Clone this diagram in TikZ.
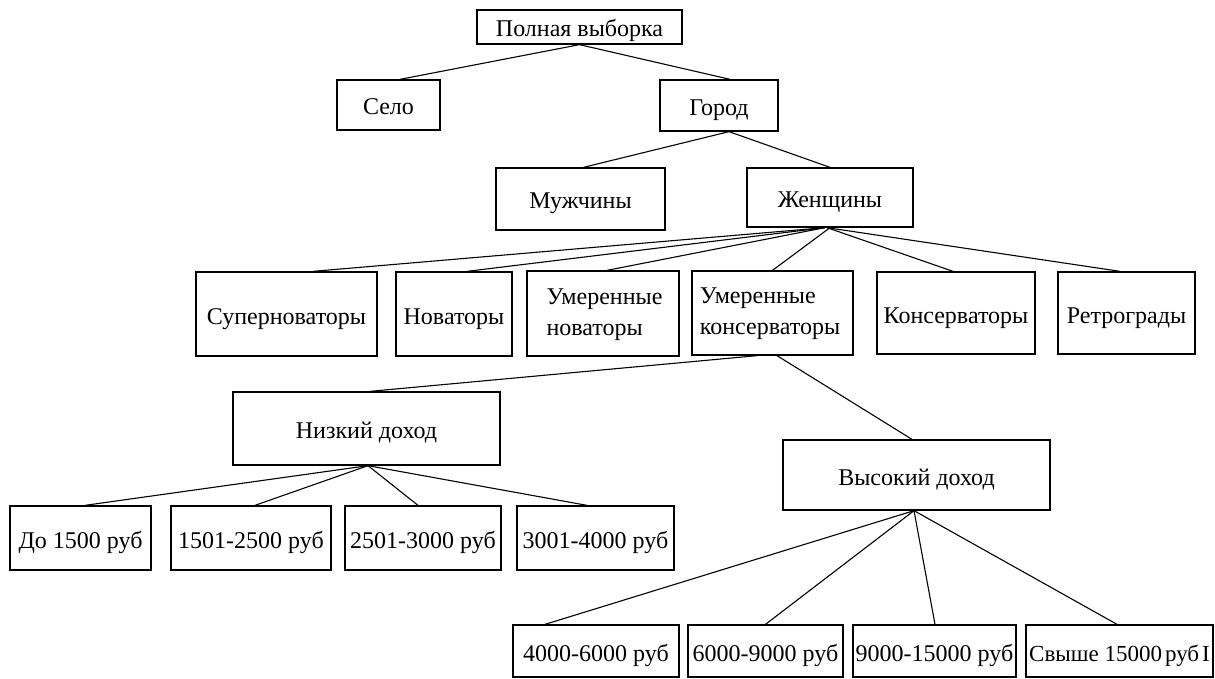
\documentclass[tikz,border=0pt]{standalone}
\usepackage{fontspec}
\setmainfont{Liberation Serif}
\begin{document}
\begin{tikzpicture}[x=1pt,y=-1pt,
  box/.style={draw, line width=1.3pt, inner sep=0pt, font=\fontsize{24}{31}\selectfont},
  tb/.style={box, text height=21pt, text depth=1pt},
  conn/.style={line width=1.1pt}]
\useasboundingbox (0,0) rectangle (1215,679);
\fill[white] (0,0) rectangle (1215,679);
% level 0-2
\node[tb, minimum width=205, minimum height=34] (full) at (579.5,27) {Полная выборка};
\node[tb, minimum width=103, minimum height=50] (selo) at (388.5,105) {Село};
\node[tb, minimum width=118, minimum height=51] (gorod) at (719,105.5) {Город};
\node[tb, minimum width=169, minimum height=62] (muzh) at (580.5,199) {Мужчины};
\node[tb, minimum width=166, minimum height=59] (zhen) at (830,197.5) {Женщины};
% level 3
\node[tb, minimum width=181, minimum height=84] (sup) at (286.5,314) {Суперноваторы};
\node[tb, minimum width=116, minimum height=84] (nov) at (454,314) {Новаторы};
\node[box, minimum width=152, minimum height=85] (umnov) at (603,313.5)
  {\hspace*{3pt}\raisebox{-3pt}{\begin{tabular}{@{}l@{}}Умеренные\\новаторы\end{tabular}}};
\node[box, minimum width=161, minimum height=84] (umkons) at (772.5,313)
  {\hspace*{-5pt}\raisebox{-3pt}{\begin{tabular}{@{}l@{}}Умеренные\\консерваторы\end{tabular}}};
\node[tb, minimum width=158, minimum height=82] (kons) at (956,313) {Консерваторы};
\node[tb, minimum width=137, minimum height=82] (retro) at (1126.5,313) {Ретрограды};
% level 4
\node[tb, minimum width=267, minimum height=73] (nizk) at (366.5,428.5) {Низкий доход};
\node[tb, minimum width=267, minimum height=70] (vys) at (916.5,475) {Высокий доход};
% level 5
\node[tb, minimum width=141, minimum height=64] (l1) at (80.5,538) {До 1500 руб};
\node[tb, minimum width=160, minimum height=64] (l2) at (251,538) {1501-2500 руб};
\node[tb, minimum width=156, minimum height=64] (l3) at (423,538) {2501-3000 руб};
\node[tb, minimum width=157, minimum height=64] (l4) at (595.5,538) {3001-4000 руб};
\node[tb, minimum width=166, minimum height=52] (h1) at (596,651) {4000-6000 руб};
\node[tb, minimum width=155, minimum height=52] (h2) at (765.5,651) {6000-9000 руб};
\node[tb, minimum width=163, minimum height=52] (h3) at (934.5,651) {9000-15000 руб};
\node[tb, minimum width=187, minimum height=52, font=\fontsize{23}{29}\selectfont] (h4) at (1119.5,651) {Свыше 15000\hspace{3pt}руб\hspace{3pt}I};
% connectors
\draw[conn] (full.south) -- ([xshift=11.5]selo.north);
\draw[conn] (full.south) -- ([xshift=11]gorod.north);
\draw[conn] ([xshift=10]gorod.south) -- ([xshift=3]muzh.north);
\draw[conn] ([xshift=10]gorod.south) -- (zhen.north);
\draw[conn] ([xshift=-5]zhen.south) -- ([xshift=26.5]sup.north);
\draw[conn] ([xshift=-5]zhen.south) -- ([xshift=13]nov.north);
\draw[conn] ([xshift=-5]zhen.south) -- ([xshift=4]umnov.north);
\draw[conn] (zhen.south) -- (umkons.north);
\draw[conn] ([xshift=-3]zhen.south) -- ([xshift=-3]kons.north);
\draw[conn] ([xshift=-3]zhen.south) -- ([xshift=-6.5]retro.north);
\draw[conn] ([xshift=-15.5]umkons.south) -- ([xshift=3.5]nizk.north);
\draw[conn] ([xshift=4.5]umkons.south) -- ([xshift=-4.5]vys.north);
\draw[conn] ([xshift=1.5]nizk.south) -- ([xshift=4.5]l1.north);
\draw[conn] ([xshift=1.5]nizk.south) -- ([xshift=4]l2.north);
\draw[conn] ([xshift=1.5]nizk.south) -- ([xshift=-5]l3.north);
\draw[conn] ([xshift=1.5]nizk.south) -- ([xshift=-8.5]l4.north);
\draw[conn] ([xshift=-2.5]vys.south) -- ([xshift=-51]h1.north);
\draw[conn] ([xshift=-2.5]vys.south) -- (h2.north);
\draw[conn] ([xshift=-2.5]vys.south) -- ([xshift=0.5]h3.north);
\draw[conn] ([xshift=-2.5]vys.south) -- ([xshift=-2.5]h4.north);
\end{tikzpicture}
\end{document}
